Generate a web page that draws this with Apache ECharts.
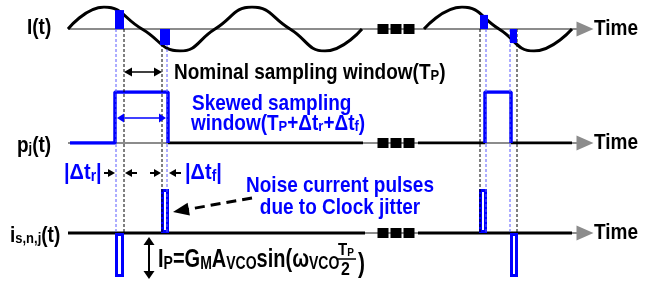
<!DOCTYPE html>
<html>
<head>
<meta charset="utf-8">
<script src="https://cdn.jsdelivr.net/npm/echarts@6/dist/echarts.min.js"></script>
<style>
html, body { margin: 0; padding: 0; background: #fff; }
#chart { width: 650px; height: 284px; }
</style>
</head>
<body>
<div id="chart"></div>
<script>
// time axis span (same units on all three traces)
var timeStart = 68, timeEnd = 572, arrowEnd = 585;
var dotsX = [383, 396, 409];

// I(t): read peaks / zero crossings of the sine
var sineA = [[68, 0], [104, 1], [142, 0], [180, -1], [215, 0], [252, 1], [290, 0], [325, -1], [362, 0]];
var sineB = [[424, 0], [462, 1], [499, 0], [534, -1], [572, 0]];
// sampled parts of I(t): [from, to, value]
var sampleWin = [[115, 124, 0.86], [160, 170, -0.73], [480, 488, 0.64], [510, 517, -0.64]];

// window edges
var nominalEdges = [124, 162, 480, 517];
var skewedEdges = [116, 167, 486, 510];

// p_j(t)
var pjBlue = [
  [[70, 0], [115, 0], [115, 1], [168, 1], [168, 0]],
  [[485, 0], [485, 1], [511, 1], [511, 0]]
];
var pjBlack = [[[168, 0], [363, 0]], [[418, 0], [485, 0]], [[511, 0], [572, 0]]];

// i_s,n,j(t)
var iBlack = [[[68, 0], [365, 0]], [[418, 0], [572, 0]]];
var noisePulse = [[115, 124, -1], [161, 169, 1], [479, 487, 1], [510, 518, -1]];

var BLUE = '#0000ff', GRAY = '#8c8c8c';
var FONT = '"Liberation Sans", Arial, sans-serif';

var chart = echarts.init(document.getElementById('chart'), null, { renderer: 'canvas' });

function xAx(i) { return { gridIndex: i, type: 'value', min: 0, max: 650, show: false }; }

function segSeries(grid, pts, color, width, z) {
  return {
    type: 'line', xAxisIndex: grid, yAxisIndex: grid, data: pts, symbol: 'none',
    lineStyle: { color: color, width: width }, z: z || 3, animation: false, silent: true
  };
}

function axisArrow(grid) {
  return {
    type: 'line', xAxisIndex: grid, yAxisIndex: grid, data: [[timeStart, 0]], symbol: 'none',
    lineStyle: { width: 0 }, z: 1, animation: false, silent: true,
    markLine: {
      z: 1, silent: true, animation: false, symbol: ['none', 'triangle'], symbolSize: [15, 17],
      label: { show: false },
      lineStyle: { color: GRAY, width: 2, type: 'solid' },
      data: [[{ coord: [timeStart, 0] }, { coord: [arrowEnd, 0] }]]
    }
  };
}

function dotSeries(grid) {
  return {
    type: 'scatter', xAxisIndex: grid, yAxisIndex: grid, symbol: 'rect', symbolSize: [11, 10],
    itemStyle: { color: '#000', opacity: 1 }, data: dotsX.map(function (x) { return [x, 0]; }), z: 6,
    animation: false, silent: true
  };
}

function rectSeries(grid, data, filled, z) {
  return {
    type: 'custom', xAxisIndex: grid, yAxisIndex: grid, data: data, z: z, animation: false, silent: true,
    renderItem: function (params, api) {
      var a = api.coord([api.value(0), 0]);
      var b = api.coord([api.value(1), api.value(2)]);
      var w = b[0] - a[0];
      if (filled) {
        return { type: 'rect', shape: { x: a[0], y: Math.min(a[1], b[1]), width: w, height: Math.abs(b[1] - a[1]) },
          style: { fill: BLUE } };
      }
      return { type: 'rect', shape: { x: a[0] + 1.5, y: Math.min(a[1], b[1]) + 1.5, width: w - 3, height: Math.abs(b[1] - a[1]) - 3 },
        style: { fill: '#fff', stroke: BLUE, lineWidth: 3 } };
    }
  };
}

function guideSeries(edges, color) {
  return {
    type: 'custom', xAxisIndex: 3, yAxisIndex: 3, data: edges.map(function (x) { return [x]; }),
    z: 5, animation: false, silent: true,
    renderItem: function (params, api) {
      var p1 = api.coord([api.value(0), 29]);
      var p2 = api.coord([api.value(0), 233]);
      return { type: 'line', shape: { x1: p1[0], y1: p1[1], x2: p2[0], y2: p2[1] },
        style: { stroke: color, lineWidth: 1, lineDash: [3, 2] } };
    }
  };
}

// arrow helpers for annotations
function head(x, y, ang, len, wid, color) {
  var c = Math.cos(ang), s = Math.sin(ang);
  var bx = x - c * len, by = y - s * len;
  return { type: 'polygon', z: 100,
    shape: { points: [[x, y], [bx - s * wid / 2, by + c * wid / 2], [bx + s * wid / 2, by - c * wid / 2]] },
    style: { fill: color } };
}
function arrow(x1, y1, x2, y2, o) {
  var ang = Math.atan2(y2 - y1, x2 - x1), c = Math.cos(ang), s = Math.sin(ang);
  var k = o.len * 0.7;
  var sx = o.both ? x1 + c * k : x1, sy = o.both ? y1 + s * k : y1;
  var els = [{ type: 'line', z: 100, shape: { x1: sx, y1: sy, x2: x2 - c * k, y2: y2 - s * k },
    style: { stroke: o.color, lineWidth: o.w, lineDash: o.dash || null } }];
  els.push(head(x2, y2, ang, o.len, o.wid, o.color));
  if (o.both) els.push(head(x1, y1, ang + Math.PI, o.len, o.wid, o.color));
  return els;
}

function txt(x, y, text, color, size, align, sy) {
  var sub = Math.round(size * 0.68);
  var r = { s: { fontSize: sub, fontWeight: 'bold', fontFamily: FONT, fill: color, verticalAlign: 'bottom', lineHeight: sub } };
  return {
    type: 'text', x: x, y: y, z: 100, scaleY: sy || 1.13,
    style: { text: text, fill: color, font: 'bold ' + size + 'px ' + FONT, align: align || 'left', verticalAlign: 'middle', rich: r }
  };
}

var graphics = [];
// labels
graphics.push(txt(27, 28, 'I(t)', '#000', 19));
graphics.push(txt(17, 146, 'p{s|j}(t)', '#000', 19));
graphics.push(txt(10, 236, 'i{s|s,n,j}(t)', '#000', 19));
[29, 143, 233].forEach(function (y) { graphics.push(txt(594, y, 'Time', '#000', 19)); });
graphics.push(txt(174, 73, 'Nominal sampling window(T{s|P})', '#000', 19));
graphics.push(txt(192, 104, 'Skewed sampling', BLUE, 19));
graphics.push(txt(191, 124, 'window(T{s|P}+Δt{s|r}+Δt{s|f})', BLUE, 19));
graphics.push(txt(64, 173, '|Δt{s|r}|', BLUE, 20));
graphics.push(txt(185, 173, '|Δt{s|f}|', BLUE, 20));
graphics.push(txt(340, 186, 'Noise current pulses', BLUE, 19, 'center'));
graphics.push(txt(340, 208, 'due to Clock jitter', BLUE, 19, 'center'));
graphics.push(txt(158, 260, 'I{s|P}=G{s|M}A{s|VCO}sin(ω{s|VCO}', '#000', 20, 'left', 1.28));
graphics.push(txt(338, 250, 'T{s|P}', '#000', 15, 'left', 1.15));
graphics.push({ type: 'line', z: 100, shape: { x1: 337, y1: 259, x2: 356, y2: 259 }, style: { stroke: '#000', lineWidth: 1.5 } });
graphics.push(txt(341, 270, '2', '#000', 16, 'left', 1.15));
graphics.push(txt(358, 264, ')', '#000', 21, 'left', 1.3));

// arrows
graphics = graphics.concat(arrow(124, 72, 162, 72, { color: '#000', w: 1.5, len: 8, wid: 9, both: true }));
graphics = graphics.concat(arrow(117, 118, 166, 118, { color: BLUE, w: 1.5, len: 7, wid: 9, both: true }));
graphics = graphics.concat(arrow(104, 173, 115, 173, { color: '#000', w: 2, len: 7, wid: 8 }));
graphics = graphics.concat(arrow(137, 173, 125, 173, { color: '#000', w: 2, len: 7, wid: 8 }));
graphics = graphics.concat(arrow(150, 173, 161, 173, { color: '#000', w: 2, len: 7, wid: 8 }));
graphics = graphics.concat(arrow(181, 173, 169, 173, { color: '#000', w: 2, len: 7, wid: 8 }));
graphics = graphics.concat(arrow(252, 198, 173, 212, { color: '#000', w: 3, len: 16, wid: 13, dash: [10, 6] }));
graphics = graphics.concat(arrow(149, 237, 149, 279, { color: '#000', w: 2, len: 8, wid: 11, both: true }));

var series = [];
// I(t)
series.push(axisArrow(0));
series.push(segSeries(0, sineA, '#000', 3));
series.push(segSeries(0, sineB, '#000', 3));
series[series.length - 1].smooth = true;
series[series.length - 2].smooth = true;
series.push(rectSeries(0, sampleWin, true, 8));
series.push(dotSeries(0));
// p_j(t)
series.push(axisArrow(1));
pjBlack.forEach(function (p) { series.push(segSeries(1, p, '#000', 3)); });
pjBlue.forEach(function (p) { series.push(segSeries(1, p, BLUE, 3.5, 4)); });
series.push(dotSeries(1));
// i_s,n,j(t)
series.push(axisArrow(2));
iBlack.forEach(function (p) { series.push(segSeries(2, p, '#000', 3)); });
series.push(rectSeries(2, noisePulse, false, 4));
series.push(dotSeries(2));
// guides
series.push(guideSeries(skewedEdges, '#5a5aff'));
series.push(guideSeries(nominalEdges, '#000'));

chart.setOption({
  animation: false,
  backgroundColor: '#fff',
  grid: [
    { left: 0, top: 7, width: 650, height: 44 },
    { left: 0, top: 92, width: 650, height: 51 },
    { left: 0, top: 189, width: 650, height: 88 },
    { left: 0, top: 0, width: 650, height: 284 }
  ],
  xAxis: [xAx(0), xAx(1), xAx(2), xAx(3)],
  yAxis: [
    { gridIndex: 0, type: 'value', min: -1, max: 1, show: false },
    { gridIndex: 1, type: 'value', min: 0, max: 1, show: false },
    { gridIndex: 2, type: 'value', min: -1, max: 1, show: false },
    { gridIndex: 3, type: 'value', min: 0, max: 284, inverse: true, show: false }
  ],
  graphic: { elements: graphics },
  series: series
});
</script>
</body>
</html>
